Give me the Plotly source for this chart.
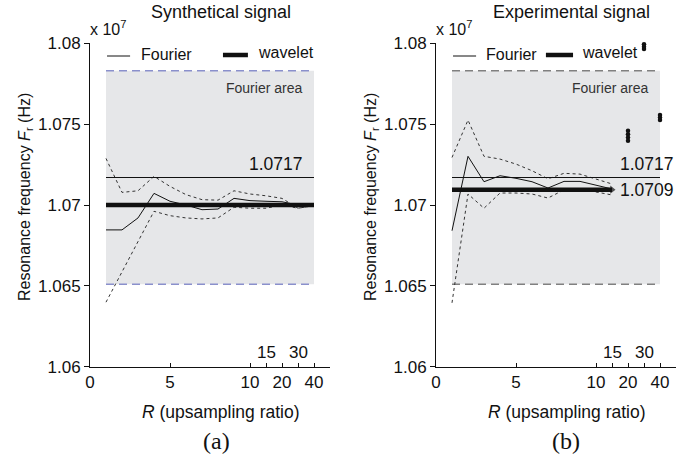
import plotly.graph_objects as go

# ---------------- data ----------------
R_values = [1, 2, 3, 4, 5, 6, 7, 8, 9, 10, 15, 20, 30, 40]
x_tick_R = [0, 5, 10, 20, 40]          # labels on the axis line
x_tick_R_upper = [15, 30]              # labels placed above the axis
y_ticks = [1.06, 1.065, 1.07, 1.075, 1.08]
y_ticktext = ["1.06", "1.065", "1.07", "1.075", "1.08"]

fourier_area = [1.0651, 1.0783]        # (x 1e7 Hz)
fourier_ref = 1.0717
fourier_ref_text = "1.0717"

# Synthetical signal
syn_fourier = [1.06846, 1.06846, 1.06920, 1.07072, 1.07023, 1.07000, 1.06971,
               1.06975, 1.07041, 1.07027, 1.07023, 1.07020, 1.07000, 1.07000]
syn_upper = [1.07288, 1.07078, 1.07088, 1.07177, 1.07115, 1.07064, 1.07033,
             1.07030, 1.07088, 1.07068, 1.07057, 1.07041, 1.06980, 1.06996]
syn_lower = [1.06399, 1.06586, 1.06773, 1.06961, 1.06934, 1.06920, 1.06914,
             1.06920, 1.06986, 1.06980, 1.06980, 1.07000, 1.06980, 1.06996]
syn_wavelet = [1.0700] * 14

# Experimental signal (curves up to R = 15)
exp_R = [1, 2, 3, 4, 5, 6, 7, 8, 9, 10, 15]
exp_fourier = [1.06841, 1.07301, 1.07144, 1.07181, 1.07165, 1.07144, 1.07105,
               1.07146, 1.07146, 1.07123, 1.07099]
exp_upper = [1.07294, 1.07525, 1.07301, 1.07284, 1.07253, 1.07212, 1.07162,
             1.07196, 1.07191, 1.07160, 1.07130]
exp_lower = [1.06395, 1.07068, 1.06980, 1.07074, 1.07074, 1.07068, 1.07043,
             1.07094, 1.07099, 1.07082, 1.07062]
exp_wavelet = [1.07095] * 11
exp_wavelet_text = "1.0709"
exp_out_R = [20, 20, 20, 20, 30, 30, 30, 40, 40, 40]
exp_out_vals = [1.07459, 1.07438, 1.07418, 1.07397,
                1.07994, 1.07979, 1.07964,
                1.07556, 1.07541, 1.07526]


# custom axis scale: R 0..10 linear, then 15, 20, 30, 40 equally spaced
def pos(r):
    return r if r <= 10 else 10 + [15, 20, 30, 40].index(r) + 1


W, H = 696, 461
FONT = "Liberation Sans, Arial, sans-serif"
BLACK = "#111111"

fig = go.Figure()


def add_panel(xa, ya, Rs, fourier, upper, lower, wavelet, end_marker):
    xs = [pos(r) for r in Rs]
    for series in (upper, lower):
        fig.add_trace(go.Scatter(x=xs, y=series, mode="lines",
                                 line=dict(color="#333333", width=1, dash="3px,3px"),
                                 xaxis=xa, yaxis=ya, showlegend=False, cliponaxis=False))
    fig.add_trace(go.Scatter(x=[pos(R_values[0]), pos(R_values[-1])],
                             y=[fourier_ref, fourier_ref], mode="lines",
                             line=dict(color=BLACK, width=1),
                             xaxis=xa, yaxis=ya, showlegend=False))
    n = len(wavelet)
    sizes = [0] * (n - 1) + [7 if end_marker else 0]
    fig.add_trace(go.Scatter(x=xs[:n], y=wavelet, mode="lines+markers",
                             line=dict(color=BLACK, width=4.5),
                             marker=dict(symbol="triangle-right", size=sizes,
                                         color=BLACK, line=dict(width=0)),
                             xaxis=xa, yaxis=ya, showlegend=False, cliponaxis=False))
    fig.add_trace(go.Scatter(x=xs, y=fourier, mode="lines",
                             line=dict(color=BLACK, width=1),
                             xaxis=xa, yaxis=ya, showlegend=False))


add_panel("x", "y", R_values, syn_fourier, syn_upper, syn_lower, syn_wavelet, False)
add_panel("x2", "y2", exp_R, exp_fourier, exp_upper, exp_lower, exp_wavelet, True)

fig.add_trace(go.Scatter(x=[pos(r) for r in exp_out_R], y=exp_out_vals, mode="markers",
                         marker=dict(color=BLACK, size=4.5),
                         xaxis="x2", yaxis="y2", showlegend=False, cliponaxis=False))

# ---------------- axes ----------------
xdoms = [(90 / W, 330 / W), (436 / W, 676 / W)]
ydom = (1 - 366.7 / H, 1 - 43.3 / H)
tickvals_x = [0, 5, 10, 11, 12, 13, 14, 15]
ticktext_x = ["" for _ in tickvals_x]
for r in x_tick_R:
    ticktext_x[tickvals_x.index(pos(r))] = str(r)

axes = {}
for i, (xn, yn) in enumerate([("xaxis", "yaxis"), ("xaxis2", "yaxis2")]):
    axes[xn] = dict(domain=xdoms[i], range=[0, 15], showline=True, linecolor=BLACK,
                    linewidth=1, ticks="inside", ticklen=4, tickcolor=BLACK,
                    tickvals=tickvals_x, ticktext=ticktext_x, showgrid=False,
                    zeroline=False, tickfont=dict(family=FONT, size=17, color=BLACK),
                    anchor="y" if i == 0 else "y2", fixedrange=True, automargin=False)
    axes[yn] = dict(domain=ydom, range=[1.06, 1.08], showline=True, linecolor=BLACK,
                    linewidth=1, ticks="outside", ticklen=5, tickcolor=BLACK,
                    tickvals=y_ticks, ticktext=y_ticktext, showgrid=False,
                    zeroline=False, tickfont=dict(family=FONT, size=17, color=BLACK),
                    anchor="x" if i == 0 else "x2", fixedrange=True, automargin=False)

# ---------------- Fourier area ----------------
shapes = []
ann = []
border_colors = ["#8a90cc", "#808080"]
for i, (xr, yr) in enumerate([("x", "y"), ("x2", "y2")]):
    x0, x1 = pos(R_values[0]), pos(R_values[-1])
    shapes.append(dict(type="rect", xref=xr, yref=yr, x0=x0, x1=x1,
                       y0=fourier_area[0], y1=fourier_area[1],
                       fillcolor="#e6e7e9", line=dict(width=0), layer="below"))
    for yv in fourier_area:
        shapes.append(dict(type="line", xref=xr, yref=yr, x0=x0, x1=x1, y0=yv, y1=yv,
                           line=dict(color=border_colors[i], width=1.5, dash="8px,5px"),
                           layer="below"))
    ann.append(dict(text="Fourier area", xref=xr, yref=yr, x=13.4, y=1.07724,
                    xanchor="right", yanchor="middle", showarrow=False,
                    font=dict(family=FONT, size=14, color="#333333")))

    # legends (manual)
    if i == 0:
        thin = (0.071, 0.167); ftxt = 0.205; thick = (0.554, 0.658); wtxt = 0.693
    else:
        thin = (0.071, 0.167); ftxt = 0.202; thick = (0.458, 0.571); wtxt = 0.602
    xd = xr + " domain"
    shapes.append(dict(type="line", xref=xd, yref="paper", x0=thin[0], x1=thin[1],
                       y0=1 - 56 / H, y1=1 - 56 / H, line=dict(color=BLACK, width=1)))
    shapes.append(dict(type="line", xref=xd, yref="paper", x0=thick[0], x1=thick[1],
                       y0=1 - 55 / H, y1=1 - 55 / H, line=dict(color=BLACK, width=4.5)))
    ann.append(dict(text="Fourier", xref=xd, yref="paper", x=ftxt, y=1 - 55 / H,
                    xanchor="left", yanchor="middle", showarrow=False,
                    font=dict(family=FONT, size=16, color=BLACK)))
    ann.append(dict(text="wavelet", xref=xd, yref="paper", x=wtxt, y=1 - 53 / H,
                    xanchor="left", yanchor="middle", showarrow=False,
                    font=dict(family=FONT, size=16, color=BLACK)))

    # 15 / 30 labels above axis
    for r in x_tick_R_upper:
        ann.append(dict(text=str(r), xref=xr, yref="paper", x=pos(r), y=1 - 352 / H,
                        xanchor="center", yanchor="middle", showarrow=False,
                        font=dict(family=FONT, size=17, color=BLACK)))

    # x 10^7
    ann.append(dict(text="x 10<sup>7</sup>", xref="paper", yref="paper",
                    x=(88 + 346 * i) / W, y=1 - 28 / H, xanchor="left", yanchor="middle",
                    showarrow=False, font=dict(family=FONT, size=16, color=BLACK)))
    # y-axis title
    ann.append(dict(text="Resonance frequency <i>F</i><sub>r</sub> (Hz)", xref="paper",
                    yref="paper", x=(26 + 346 * i) / W, y=1 - 197 / H, textangle=-90,
                    xanchor="center", yanchor="middle", showarrow=False,
                    font=dict(family=FONT, size=16, color=BLACK)))
    # x-axis title
    ann.append(dict(text="<i>R</i> (upsampling ratio)", xref="paper", yref="paper",
                    x=(221 + 346 * i) / W, y=1 - 412 / H, xanchor="center",
                    yanchor="middle", showarrow=False,
                    font=dict(family=FONT, size=17.5, color=BLACK)))
    # panel letter
    ann.append(dict(text=["(a)", "(b)"][i], xref="paper", yref="paper",
                    x=(216 + 350 * i) / W, y=1 - 441 / H, xanchor="center",
                    yanchor="middle", showarrow=False,
                    font=dict(family="Liberation Serif, Times New Roman, serif",
                              size=24, color=BLACK)))
    # panel title
    ann.append(dict(text=["Synthetical signal", "Experimental signal"][i], xref="paper",
                    yref="paper", x=(221 + 350 * i) / W, y=1 - 12 / H, xanchor="center",
                    yanchor="middle", showarrow=False,
                    font=dict(family=FONT, size=18, color=BLACK)))

# value labels
ann.append(dict(text=fourier_ref_text, xref="x", yref="y", x=13.45, y=fourier_ref,
                xanchor="right", yanchor="bottom", yshift=2, showarrow=False,
                font=dict(family=FONT, size=17.5, color=BLACK)))
ann.append(dict(text=fourier_ref_text, xref="x2", yref="y2", x=11.35, y=fourier_ref,
                xanchor="left", yanchor="bottom", yshift=2, showarrow=False,
                font=dict(family=FONT, size=17.5, color=BLACK)))
ann.append(dict(text=exp_wavelet_text, xref="x2", yref="y2", x=11.35, y=exp_wavelet[-1],
                xanchor="left", yanchor="middle", showarrow=False,
                font=dict(family=FONT, size=17.5, color=BLACK)))

fig.update_layout(width=W, height=H,
                  margin=dict(l=0, r=0, t=0, b=0, pad=0, autoexpand=False),
                  paper_bgcolor="white", plot_bgcolor="white",
                  shapes=shapes, annotations=ann, showlegend=False,
                  hovermode=False,
                  font=dict(family=FONT, color=BLACK), **axes)

fig.write_html("out.html",
               config={"displayModeBar": False, "staticPlot": True},
               post_script="document.body.style.margin='0px';"
                           "document.body.style.overflow='hidden';")
